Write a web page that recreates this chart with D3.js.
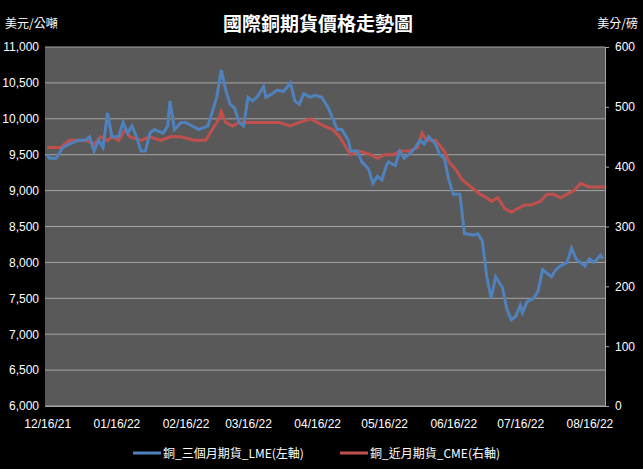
<!DOCTYPE html><html><head><meta charset="utf-8"><script src="https://cdn.jsdelivr.net/npm/d3@7"></script>
<style>body{margin:0;background:#000}text{font-family:"Noto Sans CJK TC","Noto Sans",sans-serif;fill:#fff}</style></head><body><svg id="c" width="643" height="469"></svg><script>
const baseDate="2021-12-16";
const xTickLabels=["12/16/21","01/16/22","02/16/22","03/16/22","04/16/22","05/16/22","06/16/22","07/16/22","08/16/22"];
const leftTicks=[6000,6500,7000,7500,8000,8500,9000,9500,10000,10500,11000];
const rightTicks=[0,100,200,300,400,500,600];
const lmeDays=[0,1,4,7,10,14,17,19,21,23,25,27,29,32,34,36,38,40,42,44,46,48,52,54,55,57,60,62,65,68,72,74,76,78,80,82,84,86,88,90,92,94,97,98,101,103,106,109,111,113,115,118,120,123,126,128,130,132,135,136,139,141,144,146,148,150,152,153,156,158,160,162,165,167,169,171,174,176,178,180,182,185,187,188,191,193,195,197,199,201,203,204,206,208,210,212,213,215,218,220,222,224,226,228,230,233,235,237,239,241,243,245,248,249];
const lmeValues=[9500,9450,9450,9600,9650,9700,9700,9750,9550,9700,9600,10080,9750,9750,9950,9800,9900,9750,9550,9550,9800,9850,9800,9900,10250,9850,9950,9950,9900,9850,9900,10100,10300,10680,10400,10200,10150,9950,9900,10300,10250,10300,10450,10300,10350,10400,10380,10500,10250,10200,10350,10300,10330,10300,10150,10000,9850,9850,9700,9550,9550,9400,9300,9100,9200,9150,9350,9400,9350,9550,9450,9500,9600,9700,9650,9750,9650,9500,9450,9150,8950,8950,8400,8400,8380,8400,8300,7800,7500,7800,7700,7650,7350,7200,7250,7400,7300,7450,7500,7600,7900,7850,7800,7900,7950,8000,8200,8050,8000,7950,8050,8000,8100,8050];
const cmeDays=[0,6,10,17,21,24,27,29,32,35,37,42,46,51,55,60,66,71,74,77,78,80,83,86,91,95,100,104,109,113,118,121,124,128,131,134,136,140,145,148,151,155,158,162,166,168,170,174,178,180,183,186,190,194,197,199,202,205,208,211,214,217,221,224,227,230,233,236,239,243,246,250];
const cmeValues=[432,432,444,444,438,450,444,450,444,462,450,444,450,444,450,450,444,444,462,480,492,474,468,474,474,474,474,474,468,474,480,474,468,462,450,432,420,426,420,414,420,420,426,426,432,456,444,444,426,408,396,378,366,354,348,342,348,330,324,330,336,336,342,354,354,348,354,360,372,366,366,366];
const base=new Date(baseDate+"T00:00:00");
const dt=d=>new Date(base.getTime()+d*864e5);
const svg=d3.select("#c");
const x=d3.scaleTime().domain([dt(-1),dt(250)]).range([45,605]);
const yL=d3.scaleLinear().domain([6000,11000]).range([406,47]);
const yR=d3.scaleLinear().domain([0,600]).range([406,47]);
svg.append("rect").attr("x",45).attr("y",47).attr("width",560).attr("height",359).attr("fill","#595959");
svg.append("g").selectAll("line").data(leftTicks).join("line").attr("x1",45).attr("x2",605).attr("y1",d=>yL(d)).attr("y2",d=>yL(d)).attr("stroke","#a6a6a6").attr("stroke-width",1);
const gl=svg.append("g").attr("transform","translate(45,0)").call(d3.axisLeft(yL).tickValues(leftTicks).tickSize(0).tickPadding(6));
const gr=svg.append("g").attr("transform","translate(605,0)").call(d3.axisRight(yR).tickValues(rightTicks).tickSize(4).tickPadding(6));
const parse=d3.timeParse("%m/%d/%y");
const gx=svg.append("g").attr("transform","translate(0,406)").call(d3.axisBottom(x).tickValues(xTickLabels.map(parse)).tickFormat(d3.timeFormat("%m/%d/%y")).tickSize(0).tickPadding(13));
[gl,gr,gx].forEach(g=>{g.select(".domain").attr("stroke","#a6a6a6");g.selectAll("line").attr("stroke","#a6a6a6");g.selectAll("text").style("font-size","12px").attr("fill","#fff").style("font-family","Liberation Sans, sans-serif");});
gl.select(".domain").remove();
const line=(ys)=>d3.line().x(d=>x(dt(d[0]))).y(d=>ys(d[1]));
svg.append("path").datum(d3.zip(cmeDays,cmeValues)).attr("d",line(yR)).attr("fill","none").attr("stroke","#c0504d").attr("stroke-width",3);
svg.append("path").datum(d3.zip(lmeDays,lmeValues)).attr("d",line(yL)).attr("fill","none").attr("stroke","#4f81bd").attr("stroke-width",3);
svg.append("text").attr("x",318).attr("y",31).attr("text-anchor","middle").style("font-size","19px").style("font-weight","bold").text("國際銅期貨價格走勢圖");
svg.append("text").attr("x",5).attr("y",28).style("font-size","12px").text("美元/公噸");
svg.append("text").attr("x",638).attr("y",28).attr("text-anchor","end").style("font-size","12px").text("美分/磅");
const lg=[["銅_三個月期貨_LME(左軸)","#4f81bd",133],["銅_近月期貨_CME(右軸)","#c0504d",340]];
lg.forEach(([t,c,lx])=>{svg.append("line").attr("x1",lx).attr("x2",lx+28).attr("y1",453).attr("y2",453).attr("stroke",c).attr("stroke-width",3);
svg.append("text").attr("x",lx+30).attr("y",458).style("font-size","12px").text(t);});
</script></body></html>
